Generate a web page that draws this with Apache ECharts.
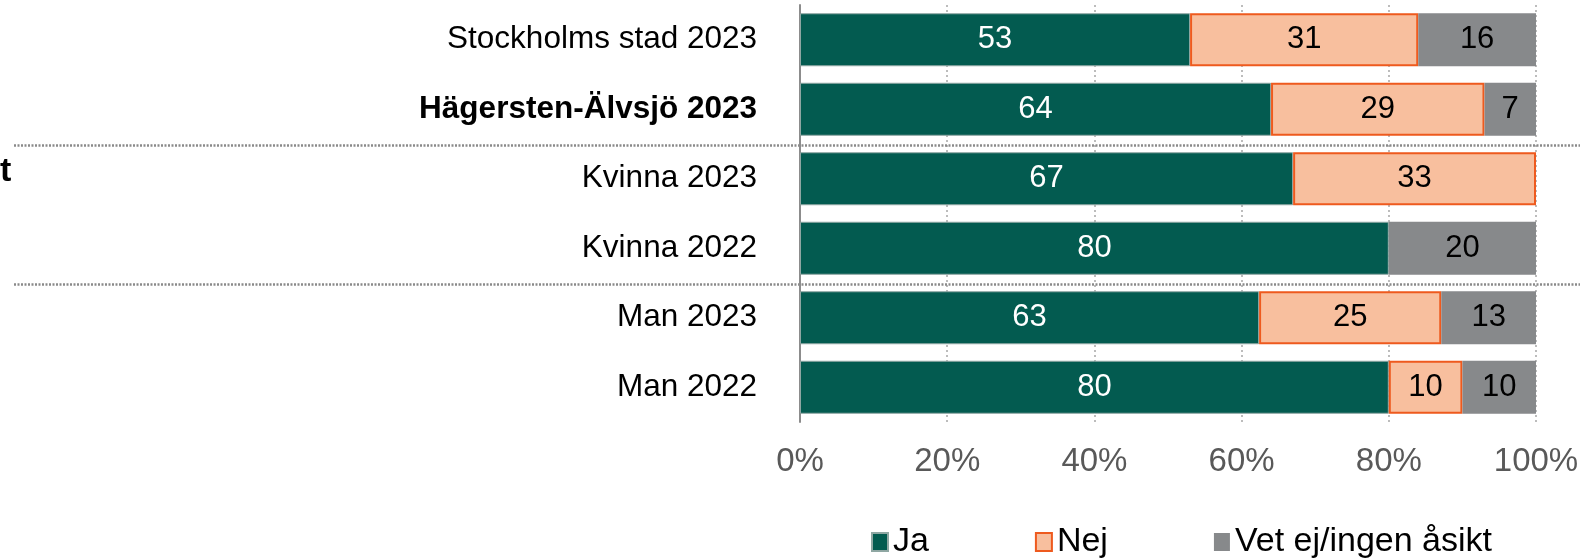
<!DOCTYPE html>
<html>
<head>
<meta charset="utf-8">
<script src="https://cdn.jsdelivr.net/npm/echarts@6/dist/echarts.min.js"></script>
<style>
  html, body { margin: 0; padding: 0; background: #fff; }
  #chart { width: 1586px; height: 559px; }
</style>
</head>
<body>
<div id="chart"></div>
<script>
// Survey answers per group, in percent (rows may not sum to exactly 100 due to rounding)
const categories = ['Stockholms stad 2023', 'Hägersten-Älvsjö 2023', 'Kvinna 2023', 'Kvinna 2022', 'Man 2023', 'Man 2022'];
const boldCategory = 'Hägersten-Älvsjö 2023';
const ja = [53, 64, 67, 80, 63, 80];
const nej = [31, 29, 33, 0, 25, 10];
const vet = [16, 7, 0, 20, 13, 10];
const seriesNames = ['Ja', 'Nej', 'Vet ej/ingen åsikt'];
const xTicks = [0, 20, 40, 60, 80, 100];
// group separators sit between these category indices
const groupBreaks = [[1, 2], [3, 4]];

const FONT = '"Liberation Sans", Arial, sans-serif';
const totals = categories.map((_, i) => ja[i] + nej[i] + vet[i]);
// 100 % stacked: each segment scaled by its row total
const share = arr => arr.map((v, i) => (v ? v / totals[i] * 100 : null));

const chart = echarts.init(document.getElementById('chart'), null, { renderer: 'canvas' });

function makeSeries(name, raw, style, labelColor) {
  return {
    name: name,
    type: 'bar',
    stack: 'total',
    barWidth: 53,
    data: share(raw),
    itemStyle: style,
    emphasis: { disabled: true },
    label: {
      show: true,
      position: 'inside',
      fontFamily: FONT,
      fontSize: 31,
      color: labelColor,
      formatter: p => (raw[p.dataIndex] ? String(raw[p.dataIndex]) : '')
    }
  };
}

chart.setOption({
  animation: false,
  textStyle: { fontFamily: FONT },
  grid: { left: 800, right: 50, top: 5, bottom: 137, containLabel: false, outerBoundsMode: 'none' },
  legend: {
    data: seriesNames,
    icon: 'rect',
    padding: 0,
    left: 871,
    top: 525,
    itemWidth: 16,
    itemHeight: 18,
    itemGap: 106,
    textStyle: { fontFamily: FONT, fontSize: 34, color: '#000' }
  },
  xAxis: {
    type: 'value',
    min: xTicks[0],
    max: xTicks[xTicks.length - 1],
    interval: xTicks[1] - xTicks[0],
    axisLine: { show: false },
    axisTick: { show: false },
    axisLabel: { fontFamily: FONT, fontSize: 33, color: '#595959', margin: 23, formatter: '{value}%' },
    splitLine: { show: true, lineStyle: { color: '#A6A6A6', width: 1.5, type: [2, 3] } }
  },
  yAxis: {
    type: 'category',
    inverse: true,
    data: categories,
    axisLine: { show: true, lineStyle: { color: '#8C8C8C', width: 2 } },
    axisTick: { show: false },
    axisLabel: {
      margin: 43,
      fontFamily: FONT,
      fontSize: 31.5,
      color: '#000',
      formatter: v => (v === boldCategory ? '{b|' + v + '}' : v),
      rich: { b: { fontFamily: FONT, fontSize: 31.5, fontWeight: 'bold', color: '#000' } }
    }
  },
  series: [
    makeSeries(seriesNames[0], ja, { color: '#035B50', borderColor: '#8FA7A3', borderWidth: 1 }, '#fff'),
    makeSeries(seriesNames[1], nej, { color: '#F8BF9E', borderColor: '#EE5A1E', borderWidth: 2 }, '#000'),
    makeSeries(seriesNames[2], vet, { color: '#87898B' }, '#000')
  ]
});

// dotted group separators running across the labels and plot
const sepY = groupBreaks.map(([a, b]) =>
  (chart.convertToPixel({ yAxisIndex: 0 }, categories[a]) + chart.convertToPixel({ yAxisIndex: 0 }, categories[b])) / 2
);
chart.setOption({
  graphic: sepY.map(y => ({
    type: 'line',
    silent: true,
    z: 0,
    shape: { x1: 14, y1: Math.round(y) + 1.5, x2: 1580, y2: Math.round(y) + 1.5 },
    style: { stroke: '#8A8A8A', lineWidth: 2.5, lineDash: [2, 1.5] }
  })).concat([{
    type: 'text',
    silent: true,
    left: 0,
    top: 155,
    style: { text: 't', font: 'bold 34px ' + FONT, fill: '#000' }
  }])
});
</script>
</body>
</html>
